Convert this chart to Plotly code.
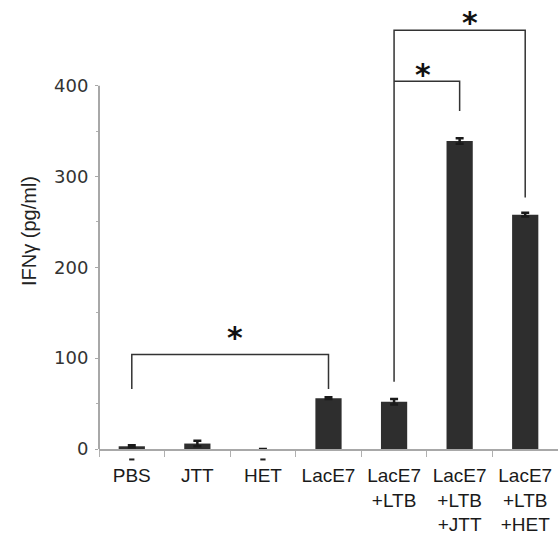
import plotly.graph_objects as go

# ---- data ----
categories = ["PBS", "JTT", "HET", "LacE7", "LacE7<br>+LTB", "LacE7<br>+LTB<br>+JTT", "LacE7<br>+LTB<br>+HET"]
ifn_values = [3, 6, 0, 56, 52, 339, 258]
ifn_errors = [1, 3, 0, 1, 3, 3, 2]
y_tick_values = [0, 100, 200, 300, 400]
y_tick_labels = ["0", "100", "200", "300", "400"]
y_minor_ticks = [50, 150, 250, 350]

# significance brackets: (left category index, right category index, bar height, left leg end, right leg end)
brackets = [
    (0, 3, 104, 66, 66),
    (4, 5, 405, 405, 372),
    (4, 6, 461, 74, 277),
]
# star marks: (x position in category units, y value)
stars = [(1.57, 129), (4.44, 419), (5.16, 476)]
# small dashes below the axis under PBS and HET
dash_cats = [0, 2]

fig = go.Figure()
fig.add_trace(go.Bar(
    x=categories, y=ifn_values,
    marker=dict(color="#2e2e2e", line=dict(width=0)),
    width=0.4,
    error_y=dict(type="data", array=ifn_errors, visible=True,
                 color="#1a1a1a", thickness=2.5, width=4),
    showlegend=False,
))

for (a, b, h, la, lb) in brackets:
    fig.add_trace(go.Scatter(
        x=[categories[a], categories[a], categories[b], categories[b]],
        y=[la, h, h, lb], mode="lines",
        line=dict(color="#333333", width=1.5), showlegend=False,
        hoverinfo="skip",
    ))

annotations = []
for (sx, sy) in stars:
    annotations.append(dict(x=sx, y=sy, xref="x", yref="y", text="*",
                            showarrow=False, yanchor="middle", yshift=-6,
                            font=dict(family="DejaVu Sans", size=30, color="#111",
                                      weight="bold")))

shapes = [dict(type="line", xref="paper", yref="y", x0=0, x1=0, y0=0, y1=400,
               line=dict(color="#a8a8a8", width=2), layer="above")]
for c in dash_cats:
    shapes.append(dict(type="line", xref="x", yref="paper", x0=c - 0.04, x1=c + 0.04,
                       y0=-0.024, y1=-0.024, line=dict(color="#222", width=2)))

fig.update_layout(
    width=558, height=537,
    margin=dict(l=99, r=0, t=13, b=88),
    paper_bgcolor="white", plot_bgcolor="white",
    annotations=annotations,
    shapes=shapes,
    xaxis=dict(
        type="category", range=[-0.5, 6.5],
        showline=True, linecolor="#a8a8a8", linewidth=2,
        ticks="outside", tickson="boundaries", ticklen=6, tickwidth=1, tickcolor="#b0b0b0",
        ticklabelstandoff=8,
        tickfont=dict(family="Liberation Sans, Arial", size=19, color="#1a1a1a"),
        showgrid=False, zeroline=False,
    ),
    yaxis=dict(
        range=[0, 480],
        tickmode="array", tickvals=y_tick_values, ticktext=y_tick_labels,
        ticks="outside", ticklen=3, tickwidth=1, tickcolor="#a8a8a8",
        minor=dict(tickmode="array", tickvals=y_minor_ticks, ticks="outside",
                   ticklen=2, tickcolor="#b0b0b0"),
        ticklabelstandoff=3,
        tickfont=dict(family="DejaVu Sans", size=18, color="#333"),
        showline=False, showgrid=False, zeroline=False,
        title=dict(text="IFNγ (pg/ml)", standoff=12,
                   font=dict(family="Liberation Sans, Arial", size=20, color="#222")),
    ),
)

fig.write_html("out.html", config={"displayModeBar": False},
               post_script="document.body.style.margin='0';")
